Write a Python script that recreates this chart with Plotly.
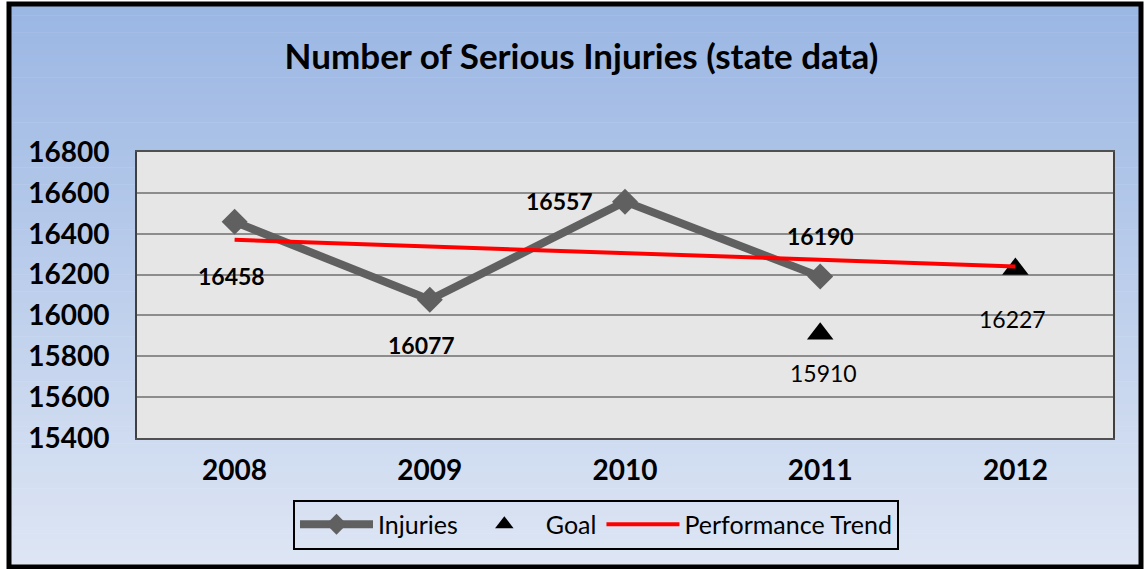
import plotly.graph_objects as go

# ---- data ----
years = ["2008", "2009", "2010", "2011", "2012"]
injury_years = ["2008", "2009", "2010", "2011"]
injuries = [16458, 16077, 16557, 16190]
goal_years = ["2011", "2012"]
goal = [15910, 16227]
trend_years = ["2008", "2012"]
trend = [16370, 16240]
y_ticks = [15400, 15600, 15800, 16000, 16200, 16400, 16600, 16800]

# ---- layout geometry ----
W, H = 1144, 569
ML, MR, MT, MB = 137, 31, 152, 131
PW = W - ML - MR
PH = H - MT - MB


def pxx(x):
    return (x - ML) / PW


def pxy(y):
    return (H - MB - y) / PH


FONT = "Lato"

fig = go.Figure()

fig.add_trace(go.Scatter(
    x=injury_years, y=injuries, name="Injuries", mode="lines+markers",
    line=dict(color="#606060", width=8),
    marker=dict(symbol="diamond", size=20, color="#606060"),
))
fig.add_trace(go.Scatter(
    x=goal_years, y=goal, name="Goal", mode="markers",
    marker=dict(symbol="triangle-up", size=23, color="black"),
))
fig.add_trace(go.Scatter(
    x=trend_years, y=trend, name="Performance Trend", mode="lines",
    line=dict(color="#FF0000", width=4),
))

# data labels
inj_offsets = [(-3, -54), (-8, -45), (-66, 1), (0, 41)]
for xv, yv, (dx, dy) in zip(injury_years, injuries, inj_offsets):
    fig.add_annotation(x=years.index(xv), y=yv, xref="x", yref="y",
                       text=f"<b>{yv}</b>", showarrow=False,
                       xshift=dx, yshift=dy, font=dict(family=FONT, size=23, color="black"))
goal_offsets = [(3, -39), (-3, -50)]
for xv, yv, (dx, dy) in zip(goal_years, goal, goal_offsets):
    fig.add_annotation(x=years.index(xv), y=yv, xref="x", yref="y",
                       text=str(yv), showarrow=False,
                       xshift=dx, yshift=dy, font=dict(family=FONT, size=23, color="black"))

# gradient background strips
shapes = []
top, bot = 4, 567
c0 = (154, 182, 227)
c1 = (222, 230, 244)
n = 100
step = (bot - top) / n
for i in range(n):
    t = (i + 0.5) / n
    c = tuple(round(a + (b - a) * t) for a, b in zip(c0, c1))
    y0 = top + i * step
    y1 = top + (i + 1) * step + 0.6
    shapes.append(dict(type="rect", xref="paper", yref="paper",
                       x0=pxx(9), x1=pxx(1141), y0=pxy(y1), y1=pxy(y0),
                       fillcolor=f"rgb{c}", line=dict(width=0), layer="below"))
# plot area background
shapes.append(dict(type="rect", xref="paper", yref="paper", x0=0, x1=1, y0=0, y1=1,
                   fillcolor="#E6E6E6", line=dict(width=0), layer="below"))
# outer frame
shapes.append(dict(type="rect", xref="paper", yref="paper",
                   x0=pxx(9), x1=pxx(1141), y0=pxy(567), y1=pxy(4),
                   fillcolor="rgba(0,0,0,0)", line=dict(color="black", width=5), layer="above"))

fig.update_layout(
    width=W, height=H,
    margin=dict(l=ML, r=MR, t=MT, b=MB),
    paper_bgcolor="white",
    plot_bgcolor="rgba(0,0,0,0)",
    shapes=shapes,
    title=dict(text="<b>Number of Serious Injuries (state data)</b>",
               x=581.5 / W, xref="container", xanchor="center",
               y=1 - 57 / H, yref="container", yanchor="middle",
               font=dict(family=FONT, size=35, color="black")),
    showlegend=True,
    legend=dict(orientation="h", x=pxx(596), xanchor="center", y=pxy(524.5), yanchor="middle",
                bgcolor="rgba(0,0,0,0)", bordercolor="black", borderwidth=2,
                itemwidth=73,
                font=dict(family=FONT, size=25, color="black"), itemsizing="trace"),
    font=dict(family=FONT, color="black"),
)

fig.update_xaxes(
    type="category", categoryorder="array", categoryarray=years,
    tickvals=years, ticktext=[f"<b>{y}</b>" for y in years], range=[-0.5, 4.5],
    showgrid=False, showline=True, linecolor="#505050", linewidth=2, mirror=True,
    tickfont=dict(family=FONT, size=28, color="black"),
    ticklabelstandoff=6, ticks="", zeroline=False,
)
fig.update_yaxes(
    range=[15400, 16800], tickvals=y_ticks, ticktext=[f"<b>{v}</b>" for v in y_ticks],
    showgrid=True, gridcolor="#8C8C8C", gridwidth=2,
    showline=True, linecolor="#404040", linewidth=2, mirror=True,
    tickfont=dict(family=FONT, size=28, color="black"),
    ticklabelstandoff=20, ticks="", zeroline=False,
)

fig.write_html("out.html", config={"displayModeBar": False},
               post_script="document.body.style.margin='0';")
